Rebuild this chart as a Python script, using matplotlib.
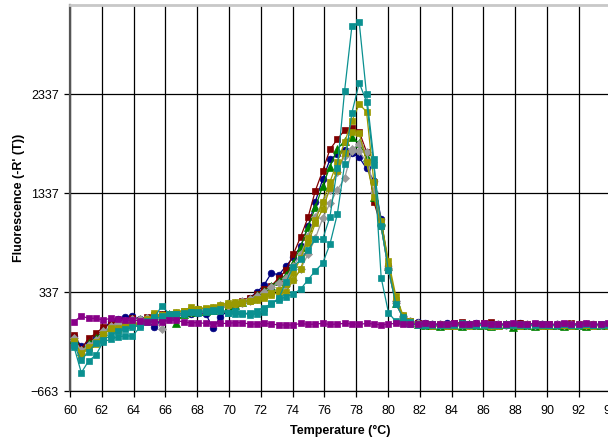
import matplotlib
matplotlib.use("Agg")
import matplotlib.pyplot as plt

plt.rcParams['font.family'] = ['Liberation Sans', 'DejaVu Sans']

temperature = [60.25, 60.71, 61.17, 61.63, 62.09, 62.55, 63.01, 63.47, 63.93, 64.39,
               64.85, 65.31, 65.77, 66.23, 66.69, 67.15, 67.61, 68.07, 68.53, 68.99,
               69.45, 69.91, 70.37, 70.83, 71.29, 71.75, 72.21, 72.67, 73.13, 73.59,
               74.05, 74.51, 74.97, 75.43, 75.89, 76.35, 76.81, 77.27, 77.73, 78.19,
               78.65, 79.11, 79.57, 80.03, 80.49, 80.95, 81.41, 81.87, 82.33, 82.79,
               83.25, 83.71, 84.17, 84.63, 85.09, 85.55, 86.01, 86.47, 86.93, 87.39,
               87.85, 88.31, 88.77, 89.23, 89.69, 90.15, 90.61, 91.07, 91.53, 91.99,
               92.45, 92.91, 93.37, 93.83]

navy = [-110, -208, -170, -120, -40, 40, 60, 80, 90, 60,
        50, -20, 60, 90, 100, 110, 120, 130, 120, -30,
        80, 150, 190, 230, 280, 334, 410, 530, 510, 600,
        690, 800, 1000, 1250, 1475, 1677, 1728, 1771, 1738, 1697,
        1586, 1461, 1074, 600, 250, 90, 45, 30, 20, 15,
        10, 20, 5, 15, 10, 20, 0, 10, 15, 5,
        10, 20, 5, 10, 15, 0, 10, 5, 15, 10,
        5, 10, 0, 10]

darkred = [-100, -240, -131, -80, -20, 10, 20, 40, 70, 50,
           80, 100, 110, 120, 120, 130, 140, 150, 160, 170,
           180, 200, 220, 250, 280, 320, 370, 400, 480, 559,
           721, 896, 1091, 1360, 1562, 1778, 1879, 1973, 1990, 1956,
           1754, 1250, 1000, 560, 220, 80, 40, 20, 10, 15,
           5, 10, 20, 30, 10, 5, 20, 30, 15, 10,
           5, 20, 10, 0, 15, 10, 5, 10, 20, 5,
           10, 0, 10, 5]

green = [-140, -260, -180, -130, -60, -20, 0, 20, 40, 60,
         70, 80, 100, 110, 20, 120, 140, 150, 150, 160,
         180, 190, 210, 240, 270, 310, 350, 400, 450, 509,
         633, 795, 990, 1192, 1408, 1603, 1778, 1866, 1900, 1839,
         1700, 1300, 1050, 600, 230, 80, 35, 15, 5, 0,
         -10, 5, 0, -5, 10, 0, 5, -5, 0, 10,
         -20, 0, 5, -5, 0, 5, 0, -5, 0, 5,
         -5, 0, 5, 0]

gray1 = [-130, -276, -198, -150, -60, -10, 20, 40, 60, 50,
         70, 60, -40, 100, 130, 140, 150, 170, 160, 180,
         210, 223, 230, 250, 270, 300, 340, 390, 430, 480,
         600, 720, 900, 1098, 1250, 1367, 1550, 1711, 1778, 1832,
         1754, 1350, 1000, 580, 250, 90, 40, 20, 10, 5,
         10, 0, 5, 10, 5, 0, 10, 5, 0, 5,
         10, 0, 5, 0, 10, 5, 0, 5, 10, 0,
         5, 0, 5, 10]

gray2 = [-150, -250, -210, -160, -80, -30, 0, 30, 50, 60,
         70, 80, 90, 100, 110, 130, 140, 150, 160, 170,
         190, 200, 215, 230, 250, 270, 300, 330, 360, 400,
         460, 570, 720, 880, 1081, 1233, 1367, 1485, 1764, 1761,
         1650, 1350, 1000, 560, 230, 80, 35, 15, 5, 10,
         0, 5, 10, 0, 5, 10, 5, 0, 10, 5,
         0, 5, 10, 5, 0, 5, 10, 0, 5, 0,
         10, 5, 0, 5]

olive1 = [-160, -300, -230, -170, -100, -30, -50, -20, 0, 20,
          40, 122, 100, 110, 130, 150, 182, 170, 180, 190,
          210, 223, 235, 239, 250, 270, 300, 330, 360, 420,
          530, 680, 880, 1060, 1250, 1450, 1650, 1850, 2067, 2236,
          2158, 1450, 1050, 650, 300, 100, 40, 15, 0, -10,
          5, -5, 0, 10, -5, 0, 5, -10, 0, 5,
          0, -5, 5, 0, -10, 0, 5, 0, -5, 10,
          0, -5, 0, 5]

olive2 = [-170, -280, -220, -190, -90, -40, -30, 0, 10, 30,
          60, 80, 100, 120, 140, 150, 160, 170, 170, 180,
          200, 210, 220, 230, 245, 260, 280, 310, 330, 340,
          458, 566, 829, 1031, 1172, 1384, 1560, 1738, 1950, 1940,
          1653, 1300, 1000, 600, 260, 90, 35, 10, 5, 0,
          10, 0, -5, 5, 0, 10, 0, 5, -5, 0,
          5, 0, 10, 0, 5, -5, 0, 10, 0, 5,
          0, 10, 0, -5]

teal1 = [-215, -478, -360, -300, -165, -141, -114, -107, -107, -20,
         40, 80, 196, 120, 110, 130, 140, 138, 150, 160,
         170, 122, 150, 130, 105, 120, 138, 223, 273, 441,
         593, 667, 761, 869, 869, 1098, 1586, 2370, 3024, 3061,
         2334, 1677, 481, 128, 40, 20, 10, 5, 0, 10,
         5, 0, 10, 20, 0, 5, 10, 0, 5, 15,
         0, 10, 5, 0, 10, 5, 0, 10, 5, 0,
         10, 5, 15, 5]

teal2 = [-200, -350, -266, -181, -150, -100, -60, -40, -20, 0,
         30, 60, 90, 100, 110, 120, 138, 130, 140, 150,
         150, 130, 120, 110, 130, 150, 180, 220, 260, 290,
         317, 367, 460, 552, 627, 822, 1122, 1627, 2148, 2451,
         2259, 1620, 1000, 560, 220, 80, 30, 10, 5, 0,
         5, 10, 0, 5, 10, 0, 5, 10, 5, 0,
         10, 5, 0, 10, 5, 0, 5, 10, 0, 5,
         10, 0, 5, 10]

purple = [37, 95, 71, 71, 54, 71, 61, 54, 51, 47,
          37, 37, 37, 51, 54, 31, 27, 27, 20, 14,
          20, 20, 27, 27, 14, 14, 20, 14, 4, 4,
          4, 20, 10, 14, 20, 10, 14, 20, 14, 10,
          20, 14, 4, 14, 20, 10, 14, 10, 20, 14,
          10, 14, 20, 10, 14, 20, 24, 14, 10, 14,
          20, 10, 14, 20, 14, 10, 14, 20, 10, 14,
          20, 10, 14, 20]

series = [
    (navy, '#000080', 'o', 4.8),
    (darkred, '#800000', 's', 4.8),
    (green, '#008000', '^', 5.6),
    (gray1, '#999999', 'D', 4.0),
    (gray2, '#999999', 'D', 4.0),
    (olive1, '#999900', 's', 4.8),
    (olive2, '#999900', 's', 4.8),
    (teal2, '#0A9090', 's', 4.8),
    (teal1, '#0A9090', 's', 4.8),
    (purple, '#880088', 's', 4.8),
]

xticks = list(range(60, 95, 2))
yticks = [-663, 337, 1337, 2337]

fig = plt.figure(figsize=(6.08, 4.41), dpi=100)
ax = fig.add_axes([70/608, 1-391/441, 540.6/608, 386/441])

for vals, col, mk, ms in series:
    ax.plot(temperature, vals, color=col, lw=0.9, marker=mk, markersize=ms,
            markerfacecolor=col, markeredgecolor=col, markeredgewidth=0.5, zorder=3)

ax.set_xlim(60, 94)
ax.set_ylim(-663, 3237)
ax.set_xticks(xticks)
ax.set_yticks(yticks)
ax.grid(True, color='black', lw=0.9, zorder=0)
ax.set_axisbelow(True)

ax.tick_params(axis='both', direction='out', length=4, width=0.9, labelsize=9,
               colors='black', pad=4)
ax.tick_params(axis='x', pad=6)
ax.spines['left'].set_color('#555555')
ax.spines['left'].set_linewidth(1.6)
ax.spines['bottom'].set_color('black')
ax.spines['bottom'].set_linewidth(0.9)
ax.spines['top'].set_color('#c8c8c8')
ax.spines['top'].set_linewidth(2)
ax.spines['right'].set_visible(False)

ax.set_xlabel('Temperature (°C)', fontsize=9, fontweight='bold', labelpad=6)
ax.set_ylabel("Fluorescence (-R' (T))", fontsize=9, fontweight='bold', labelpad=4)

fig.savefig('out.png', dpi=100)
